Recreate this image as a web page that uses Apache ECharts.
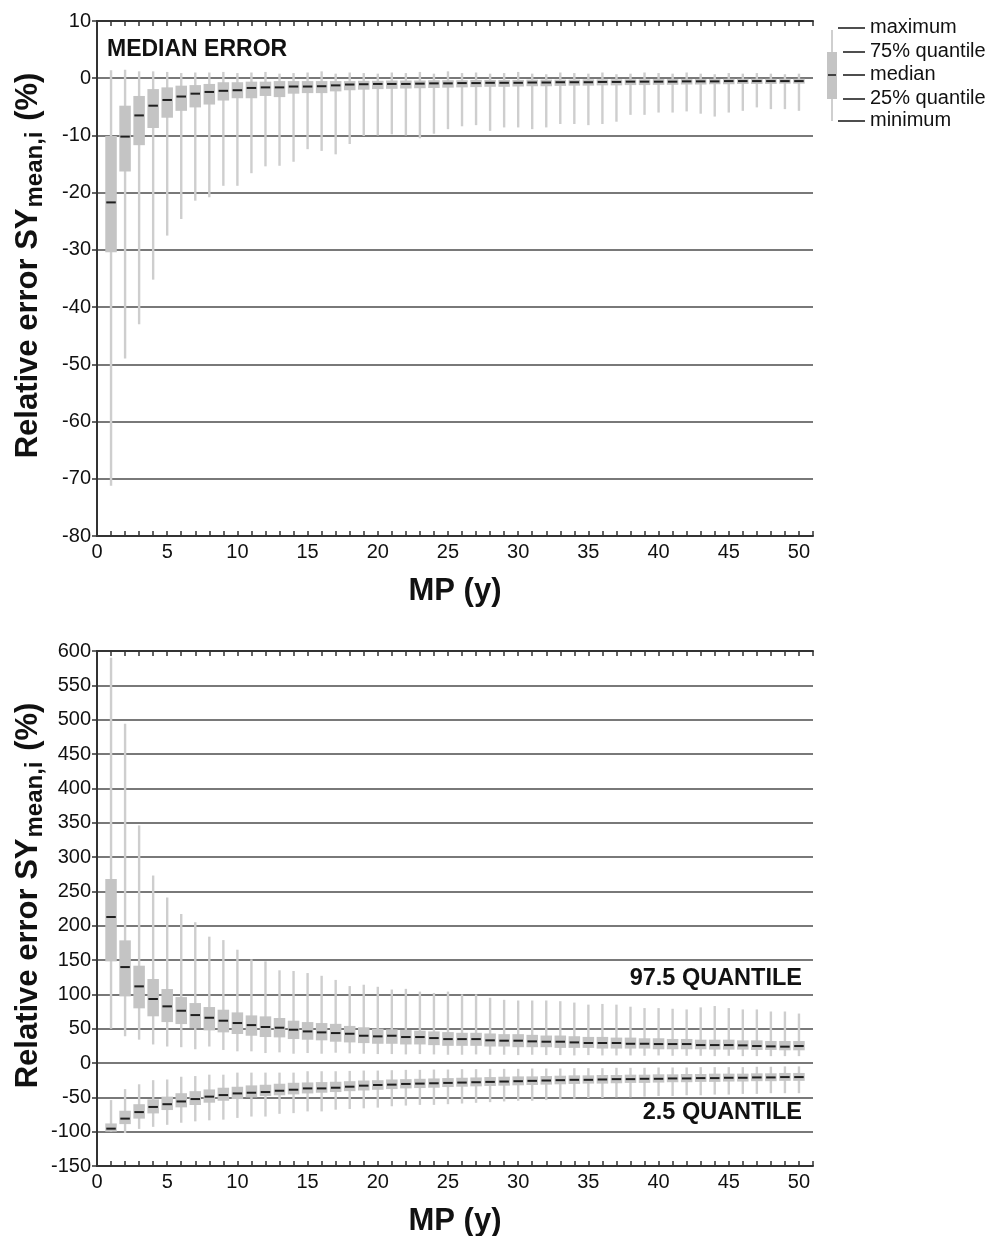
<!DOCTYPE html>
<html>
<head>
<meta charset="utf-8">
<script src="https://cdn.jsdelivr.net/npm/echarts@6/dist/echarts.min.js"></script>
<style>html,body{margin:0;padding:0;background:#fff}#c{width:993px;height:1236px}</style>
</head>
<body>
<div id="c"></div>
<script>
// MP (y) positions 1..50
const years = Array.from({length: 50}, (_, i) => i + 1);

// ---- Top panel: MEDIAN ERROR ----
const medMin = [-71.2,-49,-43,-35.2,-27.5,-24.6,-21.4,-20.8,-18.8,-18.8,
  -16.6,-15.4,-15.3,-14.6,-12.4,-12.7,-13.3,-11.5,-10.1,-10.0,
  -9.8,-10,-10.5,-9.7,-8.9,-8.4,-8.2,-9.2,-8.6,-8.6,
  -8.9,-8.6,-8,-8,-8.2,-8,-7.6,-6.4,-6.4,-6.0,
  -6,-5.8,-6.2,-6.7,-6,-5.7,-5.1,-5.4,-5.4,-5.7];
const medQ1 = [-30.4,-16.3,-11.7,-8.7,-6.9,-5.7,-5.1,-4.6,-3.9,-3.5,-3.5,-3.1,-3.3,-2.7,-2.6,-2.6,
  -2.3,-2.1,-2.0,-1.9,-1.85,-1.8,-1.75,-1.7,-1.65,-1.6,-1.55,-1.5,-1.5,-1.45,-1.4,-1.4,-1.35,-1.3,-1.3,-1.25,-1.25,-1.2,-1.2,-1.15,-1.15,-1.1,-1.1,-1.05,-1.05,-1.0,-1.0,-1.0,-0.95,-0.95];
const medMed = [-21.7,-10.2,-6.5,-4.8,-3.8,-3.2,-2.7,-2.4,-2.2,-2.1,-1.7,-1.6,-1.6,-1.45,-1.45,-1.4,
  -1.25,-1.1,-1.05,-1.0,-1.0,-1.0,-0.95,-0.9,-0.9,-0.85,-0.85,-0.8,-0.8,-0.8,-0.75,-0.75,-0.7,-0.7,-0.7,-0.65,-0.65,-0.6,-0.6,-0.6,-0.6,-0.55,-0.55,-0.55,-0.5,-0.5,-0.5,-0.5,-0.5,-0.5];
const medQ3 = [-10.1,-4.8,-3.1,-1.9,-1.6,-1.3,-1.2,-1.0,-0.7,-0.7,-0.6,-0.6,-0.5,-0.5,-0.5,-0.5,
  -0.5,-0.5,-0.45,-0.45,-0.4,-0.4,-0.4,-0.35,-0.35,-0.35,-0.3,-0.3,-0.3,-0.3,-0.25,-0.25,-0.25,-0.25,-0.2,-0.2,-0.2,-0.2,-0.2,-0.15,-0.15,-0.15,-0.15,-0.15,-0.1,-0.1,-0.1,-0.1,-0.1,-0.1];
const medMax = [1.4,1.5,1.2,1.2,1.1,0.9,1.0,1.0,1.1,0.9,1.0,1.1,0.8,0.9,1.0,1.2,0.8,1.0,0.9,0.8,
  1.0,0.9,1.1,0.8,1.2,0.9,1.0,0.8,0.9,1.1,0.8,0.7,1.0,0.9,0.8,1.0,0.7,0.8,1.0,0.9,
  0.8,1.0,0.8,0.7,0.9,0.8,0.9,0.8,0.7,0.8];

// ---- Bottom panel: 97.5 QUANTILE ----
const hiMin = [50,39,34,27,24,23,20,24,19,17,17,14.5,15.5,13.5,14.5,13.5,15,14,13.5,13,
  13,12.5,13,12.5,12,12,12.5,12,12,11.5,12,11.5,11.5,11,11.5,11,11,11,10.5,11,
  10.5,10.5,10.5,10,10.5,10,10,10,10,10];
const hiQ1 = [148,97,79.6,68,59.6,56.7,50.9,47.5,44.6,42.2,39.7,37.8,37.3,34.9,33.9,33,
  31,30,29,28,28,27,27,26,25,25,25,24,24,23,23,23,22,22,22,21,21,21,21,20,20,20,20,19.5,19.5,19.5,19,19,18.5,18.5];
const hiMed = [212.6,139.7,111.6,93.2,82.5,76.1,69.8,65.9,61.6,58.2,55.2,52.4,51.4,48.5,46,44.6,
  43.6,42.6,39.7,38.8,39.7,37.8,37.8,36.3,34.8,34.8,34.8,33,32.5,32.5,31.5,31,31,30,29.1,29.1,29.1,28,28,27.6,27.6,27.6,26.1,26.1,26.1,25.7,24.7,24.2,23.8,24.7];
const hiQ3 = [268,178.6,141.7,122.3,107.7,96,87.3,81.5,77.6,73.7,69.3,67.9,65.5,61.6,59.6,58.2,
  57,54,52,50,49,48,47,46,45,44,44,43,42,42,41,40,40,39,38,38,37,37,36,36,35,35,34,34,34,33,33,32,32,32];
const hiMax = [590,494,346,273,241,217,205,184,179,165,151,148,135,134,131,127,121,112,114,111,
  107,108,104,102,104,100,100,95,92,91,91,91,90,88,85,86,85,82,80,80,
  79,78,81,83,80,78,78,75,75,72];

// ---- Bottom panel: 2.5 QUANTILE ----
const loMin = [-100,-102,-96,-93,-90,-87,-85,-83.5,-82.5,-80,-78,-78,-74,-73,-70.5,-70.5,-68,-67,-66,-65,
  -63,-62,-61,-61,-60,-59,-58,-57,-56,-55,-55,-54,-53,-52,-51,-51,-50,-50,-49,-48,
  -48,-47,-47,-46,-46,-45,-45,-44,-44,-44];
const loQ1 = [-100,-89,-81,-73.4,-68.5,-64.6,-61.2,-57.8,-55,-52.5,-50,-48,-47,-45.7,-44.3,-43.3,-42.3,-41,-40,-39,
  -38,-37,-36.5,-36,-35,-34.5,-34,-33.5,-33,-32.5,-32,-31.5,-31,-30.5,-30,-30,-29.5,-29,-29,-28.5,
  -28,-28,-27.5,-27.5,-27,-27,-26.5,-26.5,-26,-26];
const loMed = [-95.6,-81,-71.5,-64,-60,-56,-52.5,-49,-46.7,-44.3,-43.3,-42.3,-40.4,-38.9,-37,-37,-36,-34.5,-33,-32,
  -31.5,-30.5,-30,-29.5,-29,-28.5,-28,-27.5,-27,-26.5,-26,-25.5,-25,-24.5,-24.5,-24,-23.5,-23.5,-23,-23,
  -22.5,-22.5,-22,-22,-21.5,-21.5,-21,-21,-20.5,-20.5];
const loQ3 = [-88,-69.5,-60,-53,-49,-44,-41,-38.5,-36,-34.6,-32.6,-31.7,-30.2,-28.8,-28.3,-27.8,-27.3,-26.5,-25.5,-25,
  -24,-23.5,-23,-22.5,-22,-21.5,-21,-20.5,-20,-19.5,-19.5,-19,-18.5,-18,-18,-17.5,-17.5,-17,-17,-16.5,
  -16.5,-16,-16,-15.5,-15.5,-15.5,-15,-15,-14.5,-14.5];
const loMax = [-54,-38,-31,-25,-24,-20,-19,-17,-17,-14,-14,-14,-14,-14,-12,-12,-12,-11.5,-11,-11,
  -10.5,-10,-10,-9.5,-9.5,-9,-9,-8.5,-8.5,-8.5,-8,-8,-8,-7.5,-7.5,-7.5,-7,-7,-7,-6.5,
  -6.5,-6.5,-6,-6,-6,-6,-5.5,-5.5,-5,-5];

const topTicks = {min: -80, max: 10, interval: 10};
const botTicks = {min: -150, max: 600, interval: 50};

function rows(mn, q1, md, q3, mx) {
  return years.map((y, i) => [y, mn[i], q1[i], md[i], q3[i], mx[i]]);
}

const FONT = "'Liberation Sans', Arial, sans-serif";
const GRID_C = '#4d4d4d';
const AXIS_C = '#333';

function renderBox(params, api) {
  const x = api.value(0);
  const pMin = api.coord([x, api.value(1)]);
  const pQ1 = api.coord([x, api.value(2)]);
  const pMed = api.coord([x, api.value(3)]);
  const pQ3 = api.coord([x, api.value(4)]);
  const pMax = api.coord([x, api.value(5)]);
  const bw = api.size([0.82, 0])[0];
  const cx = pMed[0];
  return {
    type: 'group',
    children: [
      {type: 'line', shape: {x1: cx, y1: pMax[1], x2: cx, y2: pMin[1]},
       style: {stroke: '#cecece', lineWidth: 2.4}},
      {type: 'rect', shape: {x: cx - bw / 2, y: pQ3[1], width: bw, height: Math.max(pQ1[1] - pQ3[1], 1)},
       style: {fill: '#c4c4c4'}},
      {type: 'line', shape: {x1: cx - bw / 2 + 1, y1: pMed[1], x2: cx + bw / 2 - 1, y2: pMed[1]},
       style: {stroke: '#1e1e1e', lineWidth: 2}}
    ]
  };
}

function xAxisDef(gridIndex, pos, withLabels, withName) {
  return {
    type: 'value', gridIndex: gridIndex, position: pos, min: 0, max: 51, interval: 1,
    axisLine: {show: true, onZero: false, lineStyle: {color: AXIS_C, width: 2}},
    axisTick: {show: true, inside: true, length: 5, lineStyle: {color: AXIS_C, width: 1.5}},
    axisLabel: {show: withLabels, margin: 6, color: '#111', fontSize: 20, fontFamily: FONT,
      formatter: v => (v % 5 === 0 && v <= 50) ? String(v) : ''},
    splitLine: {show: false},
    name: withName ? 'MP (y)' : '', nameLocation: 'middle', nameGap: 40, nameMoveOverlap: false,
    nameTextStyle: {fontSize: 31, fontWeight: 'bold', color: '#111', fontFamily: FONT}
  };
}

const yName = '{a|Relative error SY}{s|mean,i}{a| (%)}';
const yNameStyle = {
  color: '#111', fontFamily: FONT, padding: [0, 0, 0, 26],
  rich: {
    a: {fontSize: 31, fontWeight: 'bold', fontFamily: FONT, color: '#111', lineHeight: 38, verticalAlign: 'middle'},
    s: {fontSize: 24, fontWeight: 'bold', fontFamily: FONT, color: '#111', lineHeight: 38, verticalAlign: 'bottom', padding: [0, 2, 0, 1]}
  }
};

function yAxisDef(gridIndex, t) {
  return {
    type: 'value', gridIndex: gridIndex, position: 'left', min: t.min, max: t.max, interval: t.interval,
    axisLine: {show: true, lineStyle: {color: AXIS_C, width: 2}},
    axisTick: {show: true, inside: false, length: 5, lineStyle: {color: AXIS_C, width: 1.5}},
    axisLabel: {margin: 6, color: '#111', fontSize: 20, fontFamily: FONT},
    splitLine: {show: true, lineStyle: {color: GRID_C, width: 1.6}},
    name: yName, nameLocation: 'middle', nameGap: 50, nameRotate: 90, nameMoveOverlap: false,
    nameTextStyle: yNameStyle
  };
}
function yRightDef(gridIndex, t) {
  return {
    type: 'value', gridIndex: gridIndex, position: 'right', min: t.min, max: t.max, interval: t.interval,
    axisLine: {show: true, lineStyle: {color: AXIS_C, width: 2}},
    axisTick: {show: false}, axisLabel: {show: false}, splitLine: {show: false}
  };
}

const chart = echarts.init(document.getElementById('c'), null, {renderer: 'canvas'});

const legendX = 832;
const legendText = (y, txt) => ({type: 'text', left: 870, top: y - 11,
  style: {text: txt, fontSize: 20, fontFamily: FONT, fill: '#111'}});
const legendDash = (x1, y) => ({type: 'line', shape: {x1: x1, y1: y, x2: 865, y2: y},
  style: {stroke: '#222', lineWidth: 1.6}});

chart.setOption({
  animation: false,
  backgroundColor: '#fff',
  grid: [
    {left: 97, top: 21, width: 716, height: 515, containLabel: false, outerBoundsMode: 'none'},
    {left: 97, top: 651, width: 716, height: 515, containLabel: false, outerBoundsMode: 'none'}
  ],
  xAxis: [
    xAxisDef(0, 'bottom', true, true),
    xAxisDef(0, 'top', false, false),
    xAxisDef(1, 'bottom', true, true),
    xAxisDef(1, 'top', false, false)
  ],
  yAxis: [
    yAxisDef(0, topTicks), yRightDef(0, topTicks),
    yAxisDef(1, botTicks), yRightDef(1, botTicks)
  ],
  series: [
    {type: 'custom', name: 'median error', xAxisIndex: 0, yAxisIndex: 0, renderItem: renderBox,
     encode: {x: 0, y: [1, 2, 3, 4, 5]}, data: rows(medMin, medQ1, medMed, medQ3, medMax), clip: true},
    {type: 'custom', name: '97.5 quantile', xAxisIndex: 2, yAxisIndex: 2, renderItem: renderBox,
     encode: {x: 0, y: [1, 2, 3, 4, 5]}, data: rows(hiMin, hiQ1, hiMed, hiQ3, hiMax), clip: true},
    {type: 'custom', name: '2.5 quantile', xAxisIndex: 2, yAxisIndex: 2, renderItem: renderBox,
     encode: {x: 0, y: [1, 2, 3, 4, 5]}, data: rows(loMin, loQ1, loMed, loQ3, loMax), clip: true}
  ],
  graphic: [
    {type: 'text', left: 107, top: 38, style: {text: 'MEDIAN ERROR', fontSize: 23, fontWeight: 'bold', fontFamily: FONT, fill: '#111'}},
    {type: 'text', right: 993 - 802, top: 967, style: {text: '97.5 QUANTILE', fontSize: 23.5, fontWeight: 'bold', fontFamily: FONT, fill: '#111', align: 'right'}},
    {type: 'text', right: 993 - 802, top: 1101, style: {text: '2.5 QUANTILE', fontSize: 23.5, fontWeight: 'bold', fontFamily: FONT, fill: '#111', align: 'right'}},
    // legend glyph
    {type: 'line', shape: {x1: legendX, y1: 30, x2: legendX, y2: 121}, style: {stroke: '#cfcfcf', lineWidth: 2}},
    {type: 'rect', shape: {x: legendX - 5, y: 52, width: 10, height: 47}, style: {fill: '#c4c4c4'}},
    {type: 'line', shape: {x1: legendX - 4, y1: 75, x2: legendX + 4, y2: 75}, style: {stroke: '#222', lineWidth: 1.6}},
    legendDash(838, 28), legendDash(843, 52), legendDash(843, 75), legendDash(843, 99), legendDash(838, 121),
    legendText(28, 'maximum'), legendText(52, '75% quantile'), legendText(75, 'median'),
    legendText(99, '25% quantile'), legendText(121, 'minimum')
  ]
});
</script>
</body>
</html>
